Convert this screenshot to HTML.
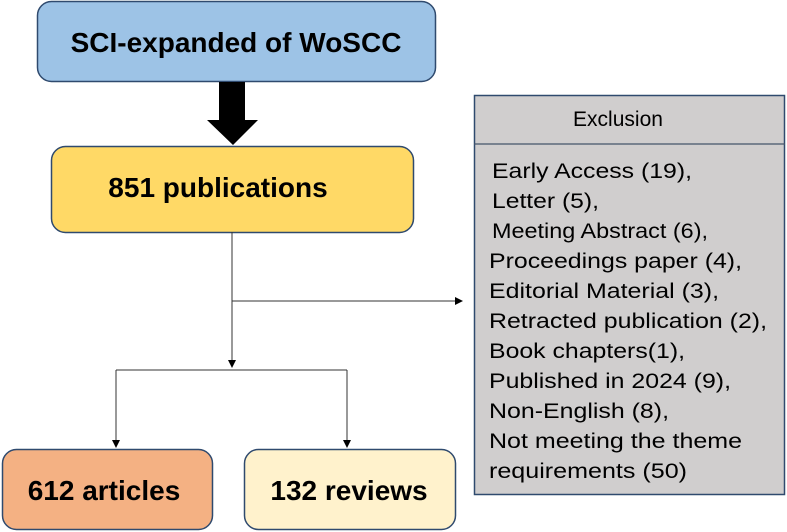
<!DOCTYPE html>
<html><head><style>body{margin:0;background:#fff}svg{display:block}</style></head>
<body>
<svg width="787" height="532" viewBox="0 0 787 532" xmlns="http://www.w3.org/2000/svg" font-family="Liberation Sans, Arial, sans-serif">
<defs><marker id="a" markerWidth="8" markerHeight="8" refX="7" refY="4" orient="auto" markerUnits="userSpaceOnUse"><path d="M0,0 L8,4 L0,8 z" fill="#000"/></marker></defs>
<rect x="37.5" y="1.5" width="398" height="80" rx="14" fill="#9dc3e6" stroke="#2f4a6e" stroke-width="1.5"/>
<text x="236" y="52" font-size="28" font-weight="bold" text-anchor="middle">SCI-expanded of  WoSCC</text>
<path d="M219,82 H245 V120 H258 L233,145 L207,120 H219 Z" fill="#000"/>
<rect x="51.5" y="146.5" width="362" height="86" rx="14" fill="#ffd966" stroke="#2f4a6e" stroke-width="1.5"/>
<text x="218" y="197" font-size="28" font-weight="bold" text-anchor="middle">851 publications</text>
<line x1="232" y1="232" x2="232" y2="367" stroke="#333" stroke-width="1"/>
<line x1="232" y1="301" x2="462" y2="301" stroke="#333" stroke-width="1" marker-end="url(#a)"/>
<path d="M232,360 V367" stroke="#333" marker-end="url(#a)"/>
<line x1="116" y1="370" x2="347" y2="370" stroke="#333"/>
<line x1="116" y1="370" x2="116" y2="447" stroke="#333" marker-end="url(#a)"/>
<line x1="347" y1="370" x2="347" y2="447" stroke="#333" marker-end="url(#a)"/>
<rect x="2.5" y="449.5" width="210" height="80" rx="14" fill="#f4b183" stroke="#2f4a6e" stroke-width="1.5"/>
<text x="104" y="500" font-size="28" font-weight="bold" text-anchor="middle">612 articles</text>
<rect x="244.5" y="449.5" width="211" height="80" rx="14" fill="#fff2cc" stroke="#2f4a6e" stroke-width="1.5"/>
<text x="349" y="500" font-size="28" font-weight="bold" text-anchor="middle">132 reviews</text>
<rect x="474.5" y="95.5" width="310" height="399" fill="#d0cece" stroke="#2f4a6e" stroke-width="1.5"/>
<line x1="474" y1="144" x2="785" y2="144" stroke="#44546a" stroke-width="1.2"/>
<text x="618" y="126" font-size="21" text-anchor="middle">Exclusion</text>
<g font-size="21" fill="#000">
<text x="492" y="178" textLength="200" lengthAdjust="spacingAndGlyphs">Early Access (19),</text>
<text x="492" y="208" textLength="107" lengthAdjust="spacingAndGlyphs">Letter (5),</text>
<text x="492" y="238" textLength="216" lengthAdjust="spacingAndGlyphs">Meeting Abstract (6),</text>
<text x="489" y="268" textLength="253" lengthAdjust="spacingAndGlyphs">Proceedings paper (4),</text>
<text x="489" y="298" textLength="230" lengthAdjust="spacingAndGlyphs">Editorial Material (3),</text>
<text x="489" y="328" textLength="278" lengthAdjust="spacingAndGlyphs">Retracted publication (2),</text>
<text x="489" y="358" textLength="196" lengthAdjust="spacingAndGlyphs">Book chapters(1),</text>
<text x="489" y="388" textLength="242" lengthAdjust="spacingAndGlyphs">Published in 2024 (9),</text>
<text x="489" y="418" textLength="180" lengthAdjust="spacingAndGlyphs">Non-English (8),</text>
<text x="489" y="448" textLength="253" lengthAdjust="spacingAndGlyphs">Not meeting the theme</text>
<text x="489" y="478" textLength="198" lengthAdjust="spacingAndGlyphs">requirements (50)</text>
</g>
</svg>
</body></html>
